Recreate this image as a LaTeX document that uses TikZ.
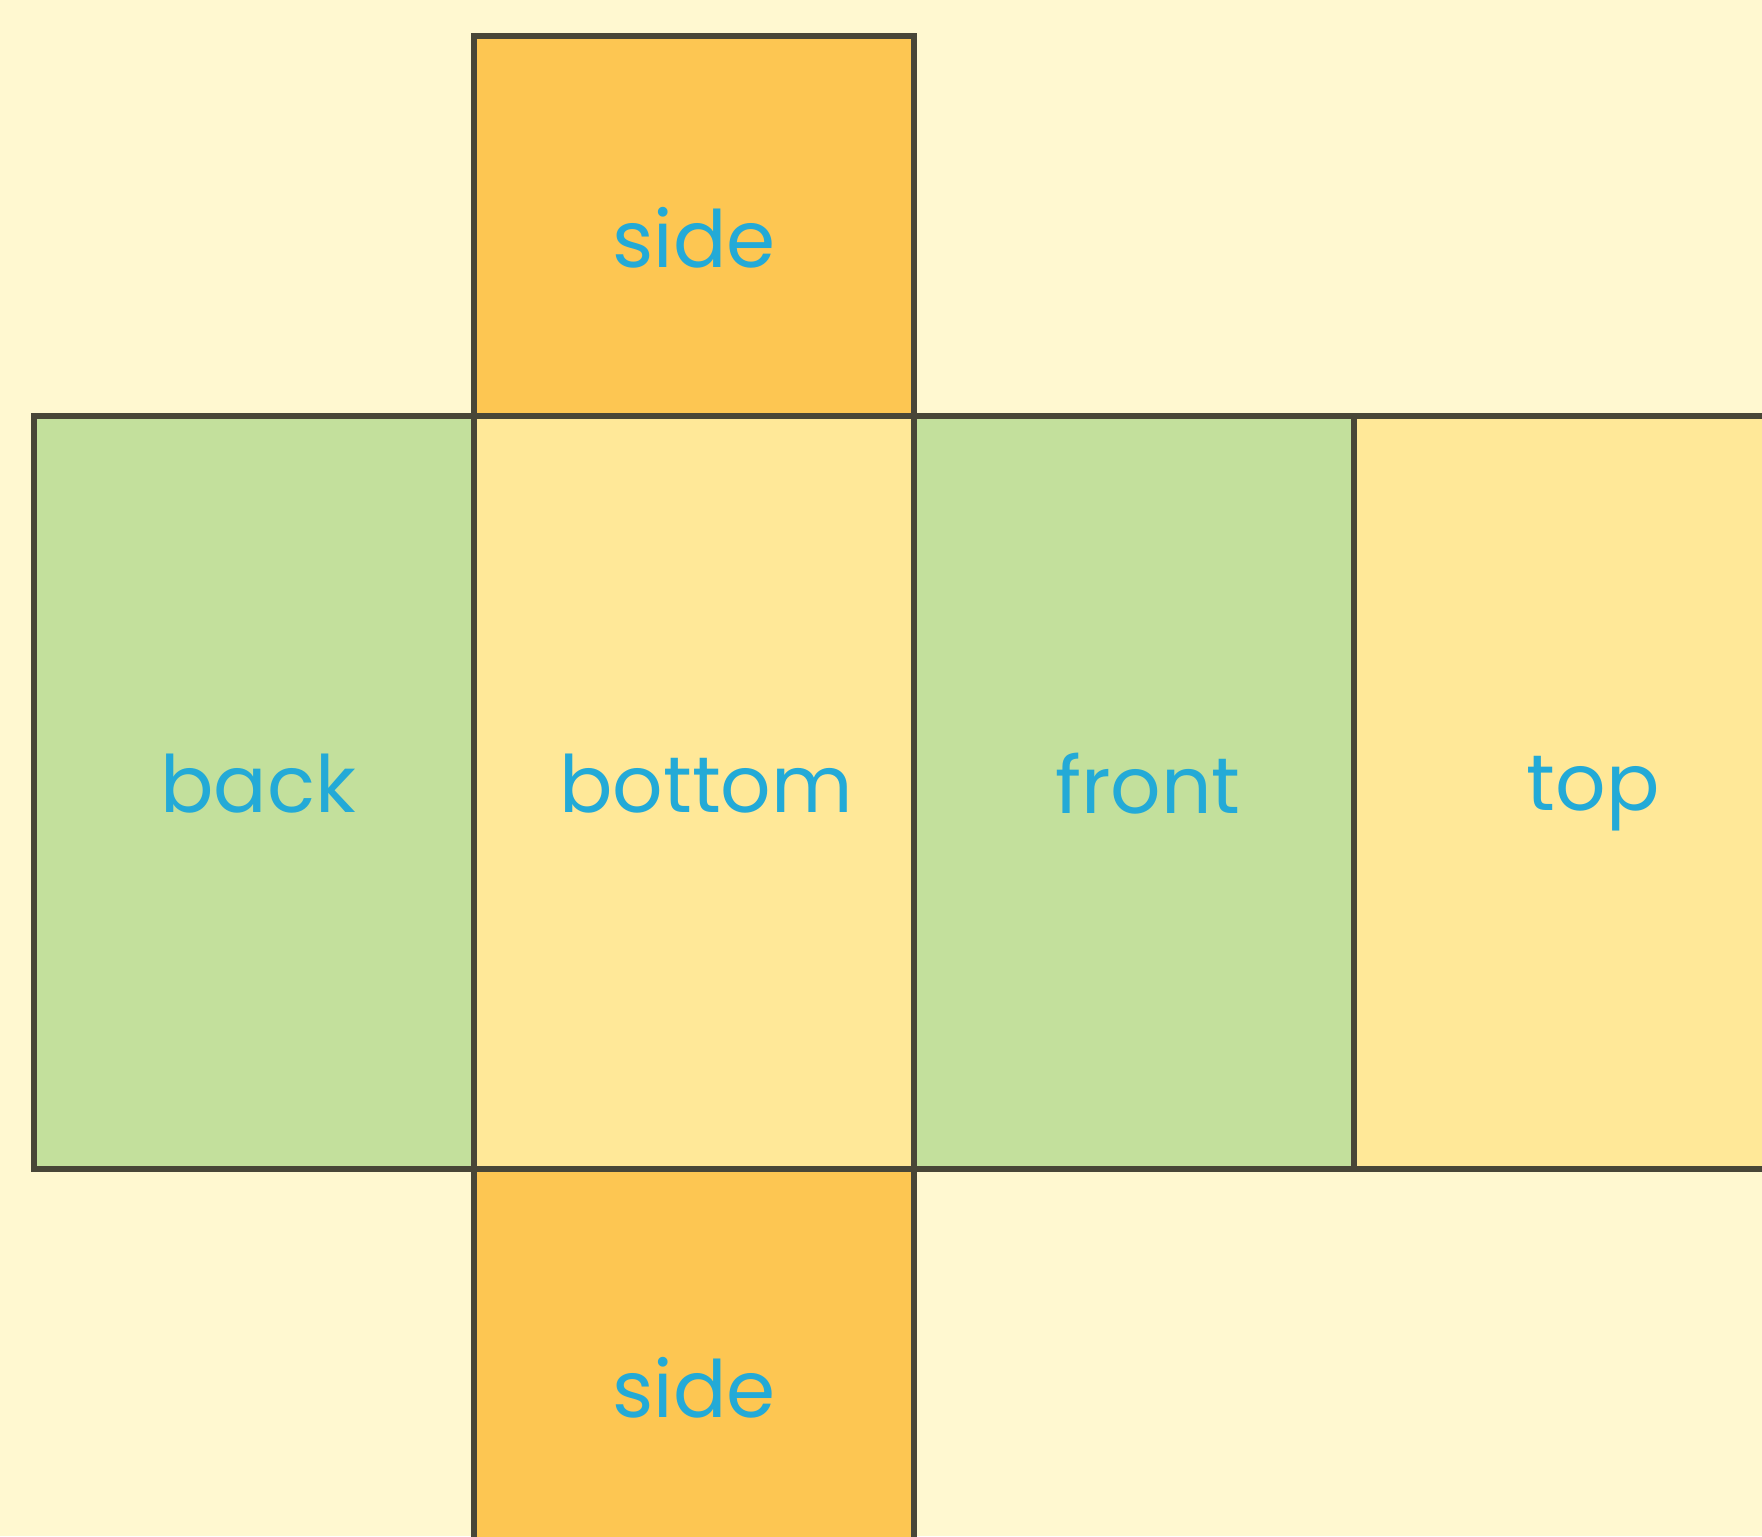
\documentclass[tikz,border=0pt]{standalone}
\usepackage{fontspec}
\setmainfont{Poppins}
\definecolor{PaperCream}{RGB}{255,248,208}
\definecolor{FaceGreen}{RGB}{195,224,156}
\definecolor{FaceYellow}{RGB}{255,232,152}
\definecolor{FaceOrange}{RGB}{253,198,82}
\definecolor{EdgeDark}{RGB}{72,70,55}
\definecolor{LabelBlue}{RGB}{35,170,215}
\usetikzlibrary{positioning}

\begin{document}
\begin{tikzpicture}[
    face/.style={draw=EdgeDark, line width=1.7pt},
    facelabel/.style={text=LabelBlue, font=\fontsize{22.5}{27}\selectfont, inner sep=0pt}
  ]
          \useasboundingbox (0,0) rectangle (17.62,15.36);
          \clip (0,0) rectangle (17.62,15.36);
          \fill[PaperCream] (0,0) rectangle (17.62,15.36);
          % flaps above and below the bottom face
          \fill[FaceOrange] (4.74,11.20) rectangle (9.14,15.00);
          \fill[FaceOrange] (4.74,-1.00) rectangle (9.14,3.67);
          % the row of four faces
          \fill[FaceGreen] (0.34,3.67) rectangle (4.74,11.20);
          \fill[FaceYellow] (4.74,3.67) rectangle (9.14,11.20);
          \fill[FaceGreen] (9.14,3.67) rectangle (13.54,11.20);
          \fill[FaceYellow] (13.54,3.67) rectangle (18.40,11.20);
          \draw[face] (4.74,11.20) rectangle (9.14,15.00);
          \draw[face] (4.74,-1.00) rectangle (9.14,3.67);
          \draw[face] (0.34,3.67) rectangle (18.40,11.20);
          \foreach \x in {4.74,9.14,13.54}
            \draw[face] (\x,3.67) -- (\x,11.20);
          \node[facelabel] (sideup) at (6.94,12.98) {side};
          \node[facelabel] (back) at (2.58,7.52) {back};
          \node[facelabel] (bottom) at (7.06,7.52) {bottom};
          \node[facelabel] (front) at (11.48,7.52) {front};
          \node[facelabel] (top) at (15.93,7.42) {top};
          \node[facelabel] (sidedown) at (6.94,1.48) {side};
        \end{tikzpicture}
\end{document}
